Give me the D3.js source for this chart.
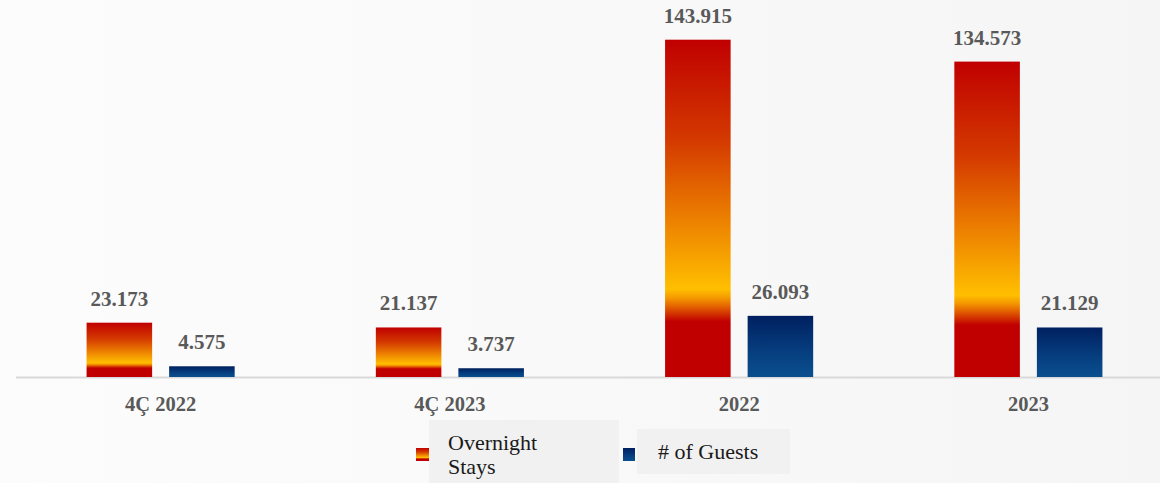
<!DOCTYPE html>
<html>
<head>
<meta charset="utf-8">
<script src="https://cdn.jsdelivr.net/npm/d3@7"></script>
<style>
  html, body { margin: 0; padding: 0; background: #f8f8f8; }
  svg { display: block; }
</style>
</head>
<body>
<div id="chart"></div>
<script>
const categories = ["4Ç 2022", "4Ç 2023", "2022", "2023"];
const seriesNames = ["Overnight Stays", "# of Guests"];
const overnightStays = [23.173, 21.137, 143.915, 134.573];
const guests = [4.575, 3.737, 26.093, 21.129];
const valueLabels = [["23.173", "4.575"], ["21.137", "3.737"], ["143.915", "26.093"], ["134.573", "21.129"]];

const W = 1160, H = 483;
const serif = "'Palatino Linotype', 'Book Antiqua', Palatino, 'Liberation Serif', serif";

const svg = d3.select("#chart").append("svg").attr("width", W).attr("height", H);
const defs = svg.append("defs");

// background
const bg = defs.append("linearGradient").attr("id", "bgGrad").attr("x1", 0).attr("x2", 1).attr("y1", 0).attr("y2", 0);
bg.append("stop").attr("offset", 0).attr("stop-color", "#fcfcfc");
bg.append("stop").attr("offset", 0.5).attr("stop-color", "#f9f9f9");
bg.append("stop").attr("offset", 1).attr("stop-color", "#f5f5f5");
svg.append("rect").attr("width", W).attr("height", H).attr("fill", "url(#bgGrad)");

// gradients
const redG = defs.append("linearGradient").attr("id", "redGrad").attr("x1", 0).attr("x2", 0).attr("y1", 0).attr("y2", 1);
[[0, "#c00000"], [0.3, "#d43a00"], [0.55, "#ee8500"], [0.74, "#ffbf00"], [0.765, "#f59a00"], [0.79, "#e46400"], [0.815, "#d02c00"], [0.835, "#c00000"], [1, "#c00000"]]
  .forEach(([o, c]) => redG.append("stop").attr("offset", o).attr("stop-color", c));
const blueG = defs.append("linearGradient").attr("id", "blueGrad").attr("x1", 0).attr("x2", 0).attr("y1", 0).attr("y2", 1);
[[0, "#002060"], [0.6, "#063f80"], [1, "#0a4f8f"]]
  .forEach(([o, c]) => blueG.append("stop").attr("offset", o).attr("stop-color", c));
const fills = ["url(#redGrad)", "url(#blueGrad)"];

const x0 = d3.scaleBand().domain(categories).range([16, 1173]).padding(0);
const x1 = d3.scaleBand().domain(seriesNames).range([0, x0.bandwidth()]).paddingInner(0.206).paddingOuter(0.855);
const y = d3.scaleLinear().domain([0, 160]).range([377, 2]);

const data = categories.map((c, i) => ({ cat: c, vals: [overnightStays[i], guests[i]], labels: valueLabels[i] }));

// axis baseline
const xAxis = d3.axisBottom(x0).tickSize(0).tickPadding(0);
const axG = svg.append("g").attr("transform", `translate(0,${y(0)})`).call(xAxis);
axG.select(".domain").remove();
axG.selectAll("text")
  .attr("dy", null).attr("y", 34)
  .attr("font-family", serif).attr("font-size", 20.5).attr("font-weight", "bold").attr("fill", "#595959");
svg.append("line").attr("x1", 16).attr("x2", W).attr("y1", y(0) + 0.5).attr("y2", y(0) + 0.5)
  .attr("stroke", "#d9d9d9").attr("stroke-width", 2);

const groups = svg.selectAll("g.grp").data(data).join("g").attr("class", "grp")
  .attr("transform", d => `translate(${x0(d.cat)},0)`);

groups.selectAll("rect").data(d => d.vals.map((v, j) => ({ v, j, s: seriesNames[j] }))).join("rect")
  .attr("x", d => x1(d.s)).attr("width", x1.bandwidth())
  .attr("y", d => y(d.v)).attr("height", d => y(0) - y(d.v))
  .attr("fill", d => fills[d.j]);

groups.selectAll("text.val").data(d => d.vals.map((v, j) => ({ v, j, s: seriesNames[j], l: d.labels[j] }))).join("text")
  .attr("class", "val")
  .attr("x", d => x1(d.s) + x1.bandwidth() / 2)
  .attr("y", d => y(d.v) - 17)
  .attr("text-anchor", "middle")
  .attr("font-family", serif).attr("font-size", 21).attr("font-weight", "bold").attr("fill", "#595959")
  .text(d => d.l);

// legend
const leg = svg.append("g");
leg.append("rect").attr("x", 429).attr("y", 420).attr("width", 190).attr("height", 63).attr("fill", "#f1f1f1");
leg.append("rect").attr("x", 637).attr("y", 429).attr("width", 153).attr("height", 45).attr("fill", "#f1f1f1");
leg.append("rect").attr("x", 416).attr("y", 448).attr("width", 13).attr("height", 13).attr("fill", fills[0]);
leg.append("rect").attr("x", 623).attr("y", 448).attr("width", 12).attr("height", 13).attr("fill", fills[1]);
const t1 = leg.append("text").attr("font-family", serif).attr("font-size", 22).attr("fill", "#1a1a1a");
const words = seriesNames[0].split(" ");
t1.append("tspan").attr("x", 448).attr("y", 450).text(words[0]);
t1.append("tspan").attr("x", 448).attr("y", 474).text(words[1]);
leg.append("text").attr("x", 658).attr("y", 459).attr("font-family", serif).attr("font-size", 22).attr("fill", "#1a1a1a")
  .text(seriesNames[1]);
</script>
</body>
</html>
